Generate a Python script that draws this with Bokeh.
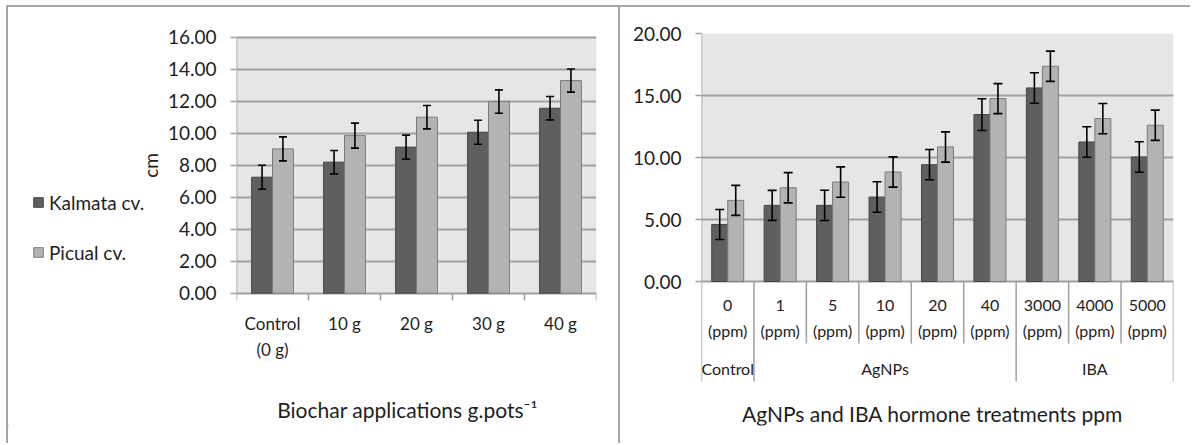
import math
from bokeh.plotting import figure
from bokeh.models import (FactorRange, Range1d, FixedTicker, NumeralTickFormatter,
                          BoxAnnotation, Legend, LegendItem, ColumnDataSource)
from bokeh.transform import dodge
from bokeh.layouts import row
from bokeh.core.properties import value
from bokeh.embed import file_html
from bokeh.resources import INLINE

# ---------------- data: left chart (biochar) ----------------
biochar_cats = ["Control", "10 g", "20 g", "30 g", "40 g"]
biochar_cats_line2 = ["(0 g)", "", "", "", ""]
kalmata_biochar = [7.25, 8.19, 9.13, 10.06, 11.56]
picual_biochar = [9.02, 9.85, 11.00, 11.98, 13.29]
kalmata_biochar_err = [0.75, 0.73, 0.75, 0.75, 0.73]
picual_biochar_err = [0.75, 0.78, 0.73, 0.73, 0.72]
biochar_yticks = [0, 2, 4, 6, 8, 10, 12, 14, 16]
biochar_title = "Biochar applications g.pots\u207b\u00b9"
y_title = "cm"
series_names = ["Kalmata cv.", "Picual cv."]

# ---------------- data: right chart (AgNPs / IBA) ----------------
treat_groups = ["Control", "AgNPs", "AgNPs", "AgNPs", "AgNPs", "AgNPs", "IBA", "IBA", "IBA"]
treat_doses = ["0", "1", "5", "10", "20", "40", "3000", "4000", "5000"]
treat_unit = "(ppm)"
group_names = ["Control", "AgNPs", "IBA"]
kalmata_treat = [4.60, 6.14, 6.14, 6.81, 9.42, 13.46, 15.61, 11.25, 10.04]
picual_treat = [6.54, 7.56, 8.02, 8.83, 10.85, 14.75, 17.36, 13.14, 12.60]
kalmata_treat_err = [1.21, 1.21, 1.22, 1.23, 1.22, 1.28, 1.23, 1.23, 1.23]
picual_treat_err = [1.21, 1.22, 1.22, 1.22, 1.22, 1.21, 1.22, 1.22, 1.22]
treat_yticks = [0, 5, 10, 15, 20]
treat_title = "AgNPs and IBA hormone treatments ppm"

# ---------------- styles ----------------
FONT = "Lato"
DARK = "#5f5f5f"
DARK_LINE = "#454545"
LIGHT = "#b3b3b3"
LIGHT_LINE = "#7a7a7a"
PLOT_BG = "#e6e6e6"
GRID = "#a0a0a0"
TXT = "#1e1e1e"
BORDER = "2px solid #a6a6a6"

FRAME_TOP = 33.0      # page px, shared by all frames in the row
FRAME_BOTTOM = 425.0
PANEL_X0 = 8          # page x where the left panel's canvas starts
SPLIT_X = 166         # page x where the legend strip ends and the left chart begins
DIVIDER_X = 622
COMMON = dict(output_backend="svg", toolbar_location=None, height=438,
              min_border_top=int(FRAME_TOP - 7), min_border_bottom=int(445 - FRAME_BOTTOM),
              background_fill_color="white", border_fill_color="white")


def style_y_axis(p, ticks, standoff):
    ax = p.yaxis[0]
    ax.ticker = FixedTicker(ticks=ticks)
    ax.formatter = NumeralTickFormatter(format="0.00")
    ax.axis_line_color = None
    ax.major_tick_line_color = GRID
    ax.major_tick_line_width = 1.5
    ax.major_tick_out = 6
    ax.major_tick_in = 0
    ax.minor_tick_line_color = None
    ax.major_label_text_font = FONT
    ax.major_label_text_font_size = "19px"
    ax.major_label_text_color = TXT
    ax.major_label_standoff = standoff
    p.ygrid.ticker = FixedTicker(ticks=ticks)
    p.ygrid.grid_line_color = GRID
    p.ygrid.grid_line_width = 2
    p.xgrid.visible = False
    p.outline_line_color = None


def add_bars(p, src, xcol, off, w, cap):
    rk = p.vbar(x=dodge(xcol, -off, range=p.x_range), top="kal", width=w, source=src,
                fill_color=DARK, line_color=DARK_LINE, line_width=1)
    rp = p.vbar(x=dodge(xcol, off, range=p.x_range), top="pic", width=w, source=src,
                fill_color=LIGHT, line_color=LIGHT_LINE, line_width=1)
    for sign, lo, hi in ((-off, "kal_lo", "kal_hi"), (off, "pic_lo", "pic_hi")):
        xs = dodge(xcol, sign, range=p.x_range)
        p.segment(x0=xs, x1=xs, y0=lo, y1=hi, source=src, line_color="black", line_width=1.6)
        p.scatter(x=xs, y=hi, source=src, marker="dash", size=cap, line_color="black", line_width=1.6)
        p.scatter(x=xs, y=lo, source=src, marker="dash", size=cap, line_color="black", line_width=1.6)
    return rk, rp


def labels(p, src, x, y, text, size, angle=0):
    p.text(x=x, y=y, text=text, source=src, text_font=value(FONT), text_font_size=size,
           text_color=TXT, text_align="center", text_baseline="middle", angle=angle)


# ======================= LEGEND STRIP (left of the biochar chart) =======================
pLeg = figure(width=SPLIT_X - PANEL_X0, x_range=Range1d(PANEL_X0, SPLIT_X),
              y_range=Range1d(FRAME_BOTTOM, FRAME_TOP),
              x_axis_location=None, y_axis_location=None,
              min_border_left=0, min_border_right=0, margin=(5, 0, 0, 6),
              styles={"border-left": BORDER, "border-top": BORDER}, **COMMON)
pLeg.grid.visible = False
pLeg.outline_line_color = None
# legend swatch renderers: one zero-size bar each, parked outside the visible x range
swatch_src = ColumnDataSource(dict(x=[PANEL_X0 - 100], top=[FRAME_BOTTOM], bottom=[FRAME_BOTTOM]))
legK = pLeg.vbar(x="x", top="top", bottom="bottom", width=1, source=swatch_src,
                 fill_color=DARK, line_color=DARK_LINE, line_width=1)
legP = pLeg.vbar(x="x", top="top", bottom="bottom", width=1, source=swatch_src,
                 fill_color=LIGHT, line_color=LIGHT_LINE, line_width=1)
legend = Legend(items=[LegendItem(label=series_names[0], renderers=[legK]),
                       LegendItem(label=series_names[1], renderers=[legP])],
                location=(32 - PANEL_X0, FRAME_BOTTOM - 264), orientation="vertical",
                border_line_color=None, background_fill_alpha=0,
                padding=0, margin=0, spacing=26, glyph_width=12, glyph_height=12,
                label_standoff=5, label_height=24,
                label_text_font=FONT, label_text_font_size="19px", label_text_color=TXT)
pLeg.add_layout(legend)
labels(pLeg, ColumnDataSource(dict(x=[150], y=[165], t=[y_title])), "x", "y", "t", "19px",
       angle=math.pi / 2)

# ======================= LEFT CHART =======================
zeroL = 292.7                     # page y of value 0
pxL = (zeroL - 36.7) / max(biochar_yticks)
tickL = 7.3 / pxL
yL0 = -(FRAME_BOTTOM - zeroL) / pxL
yL1 = (zeroL - FRAME_TOP) / pxL

srcL = ColumnDataSource(dict(
    cat=biochar_cats, line2=biochar_cats_line2, kal=kalmata_biochar, pic=picual_biochar,
    kal_lo=[v - e for v, e in zip(kalmata_biochar, kalmata_biochar_err)],
    kal_hi=[v + e for v, e in zip(kalmata_biochar, kalmata_biochar_err)],
    pic_lo=[v - e for v, e in zip(picual_biochar, picual_biochar_err)],
    pic_hi=[v + e for v, e in zip(picual_biochar, picual_biochar_err)],
    tick_lo=[-tickL] * len(biochar_cats), zero=[0] * len(biochar_cats),
    lab1=[-(322.7 - zeroL) / pxL] * len(biochar_cats),
    lab2=[-(348.5 - zeroL) / pxL] * len(biochar_cats),
))
srcL_edge = ColumnDataSource(dict(cat=biochar_cats[:1], top=[max(biochar_yticks)], lo=[-tickL]))
srcL_title = ColumnDataSource(dict(x=[biochar_cats[len(biochar_cats) // 2]], t=[biochar_title],
                                   y=[-(409 - zeroL) / pxL]))

pL = figure(x_range=FactorRange(factors=biochar_cats), y_range=Range1d(yL0, yL1),
            width=DIVIDER_X - SPLIT_X, x_axis_location=None,
            min_border_left=236 - SPLIT_X, min_border_right=DIVIDER_X - 598,
            margin=(5, 0, 0, 0),
            styles={"border-top": BORDER, "border-right": BORDER}, **COMMON)
pL.add_layout(BoxAnnotation(bottom=0, top=max(biochar_yticks), fill_color=PLOT_BG, fill_alpha=1,
                            line_color=None, level="image"))
style_y_axis(pL, biochar_yticks, 14)

# left axis line (down to the tick below zero) and category boundary ticks
pL.segment(x0=dodge("cat", -0.5, range=pL.x_range), x1=dodge("cat", -0.5, range=pL.x_range),
           y0="top", y1="lo", source=srcL_edge, line_color=GRID, line_width=1.5)
pL.segment(x0=dodge("cat", 0.5, range=pL.x_range), x1=dodge("cat", 0.5, range=pL.x_range),
           y0="zero", y1="tick_lo", source=srcL, line_color=GRID, line_width=1.5)

add_bars(pL, srcL, "cat", 0.145, 0.29, 8)

labels(pL, srcL, "cat", "lab1", "cat", "17px")
labels(pL, srcL, "cat", "lab2", "line2", "17px")
labels(pL, srcL_title, dodge("x", -0.124, range=pL.x_range), "y", "t", "21px")

# ======================= RIGHT CHART =======================
factors = list(zip(treat_groups, treat_doses))
zeroR = 281.0
pxR = (zeroR - FRAME_TOP) / max(treat_yticks)
yR0 = -(FRAME_BOTTOM - zeroR) / pxR
sep_long = -(381 - zeroR) / pxR
sep_short = -(343 - zeroR) / pxR

sep_bottom = []
for i in range(len(treat_groups)):
    last = i == len(treat_groups) - 1
    sep_bottom.append(sep_long if last or treat_groups[i] != treat_groups[i + 1] else sep_short)

srcR = ColumnDataSource(dict(
    x=factors, kal=kalmata_treat, pic=picual_treat,
    kal_lo=[v - e for v, e in zip(kalmata_treat, kalmata_treat_err)],
    kal_hi=[v + e for v, e in zip(kalmata_treat, kalmata_treat_err)],
    pic_lo=[v - e for v, e in zip(picual_treat, picual_treat_err)],
    pic_hi=[v + e for v, e in zip(picual_treat, picual_treat_err)],
    dose=treat_doses, unit=[treat_unit] * len(treat_doses),
    dose_y=[-(305 - zeroR) / pxR] * len(treat_doses),
    unit_y=[-(330 - zeroR) / pxR] * len(treat_doses),
    zero=[0] * len(treat_doses), sep_bottom=sep_bottom,
))
srcR_edge = ColumnDataSource(dict(x=factors[:1], top=[max(treat_yticks)], lo=[sep_long]))
srcG = ColumnDataSource(dict(x=group_names, y=[-(368 - zeroR) / pxR] * len(group_names)))
srcR_title = ColumnDataSource(dict(x=[factors[len(factors) // 2]], t=[treat_title],
                                   y=[-(413 - zeroR) / pxR]))

pR = figure(x_range=FactorRange(factors=factors, group_padding=0, factor_padding=0,
                                subgroup_padding=0, range_padding=0),
            y_range=Range1d(yR0, max(treat_yticks)),
            width=1194 - DIVIDER_X - 2, x_axis_location=None,
            min_border_left=705 - DIVIDER_X - 2, min_border_right=1194 - 1177,
            margin=(5, 0, 0, 0),
            styles={"border-top": BORDER}, **COMMON)
pR.add_layout(BoxAnnotation(bottom=0, top=max(treat_yticks), fill_color=PLOT_BG, fill_alpha=1,
                            line_color=None, level="image"))
style_y_axis(pR, treat_yticks, 14)

pR.segment(x0=dodge("x", -0.5, range=pR.x_range), x1=dodge("x", -0.5, range=pR.x_range),
           y0="top", y1="lo", source=srcR_edge, line_color=GRID, line_width=1.5)
pR.segment(x0=dodge("x", 0.5, range=pR.x_range), x1=dodge("x", 0.5, range=pR.x_range),
           y0="zero", y1="sep_bottom", source=srcR, line_color=GRID, line_width=1.5)

add_bars(pR, srcR, "x", 0.1525, 0.305, 9)

labels(pR, srcR, "x", "dose_y", "dose", "16px")
labels(pR, srcR, "x", "unit_y", "unit", "16px")
labels(pR, srcG, "x", "y", "x", "16px")
labels(pR, srcR_title, dodge("x", -0.095, range=pR.x_range), "y", "t", "21px")

layout = row(pLeg, pL, pR, spacing=0)
open("out.html", "w").write(file_html(layout, INLINE))
